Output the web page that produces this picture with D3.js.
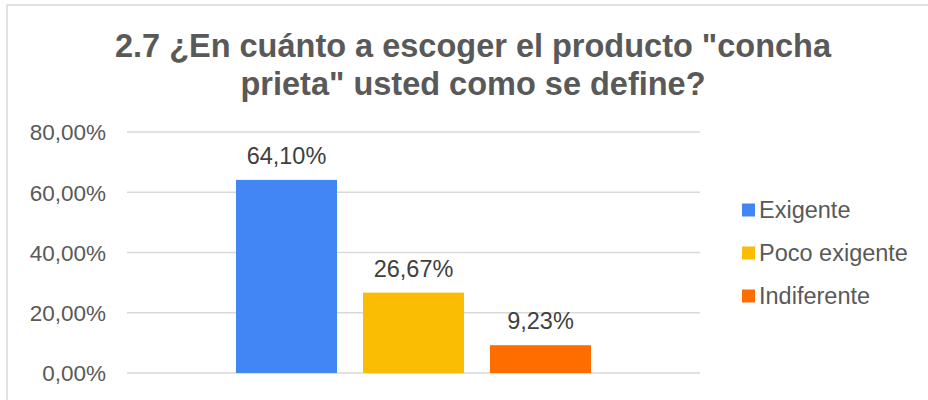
<!DOCTYPE html>
<html>
<head>
<meta charset="utf-8">
<script src="https://cdn.jsdelivr.net/npm/d3@7"></script>
<style>
  html, body { margin: 0; padding: 0; background: #fff; }
  svg { display: block; }
</style>
</head>
<body>
<svg id="chart" width="928" height="400"></svg>
<script>
const titleLines = ["2.7 ¿En cuánto a escoger el producto \"concha", "prieta\" usted como se define?"];
const categories = ["Exigente", "Poco exigente", "Indiferente"];
const values = [0.6410, 0.2667, 0.0923];
const colors = ["#4285F4", "#FBBC04", "#FF6D00"];
const yTicks = [0, 0.2, 0.4, 0.6, 0.8];

const svg = d3.select("#chart");
const font = "'Liberation Sans', Arial, sans-serif";

// Outer border
svg.append("rect")
  .attr("x", 7).attr("y", 5)
  .attr("width", 1000).attr("height", 1000)
  .attr("fill", "none")
  .attr("stroke", "#d9d9d9")
  .attr("stroke-width", 1.5);

// Title
const title = svg.append("text")
  .attr("text-anchor", "middle")
  .attr("font-family", font)
  .attr("font-weight", "bold")
  .attr("font-size", 32.5)
  .attr("fill", "#595959");
titleLines.forEach((t, i) => {
  title.append("tspan").attr("x", 473).attr("y", 57 + i * 38).text(t);
});

const plotLeft = 127, plotRight = 700;
const y = d3.scaleLinear().domain([0, 0.8]).range([373, 132]);
const x = d3.scaleBand().domain(categories).range([plotLeft, plotRight])
  .paddingInner(0.2047).paddingOuter(0.858);

const fmt = v => d3.format(".2f")(v * 100).replace(".", ",") + "%";

// Gridlines
svg.append("g")
  .selectAll("line")
  .data(yTicks)
  .join("line")
  .attr("x1", plotLeft).attr("x2", plotRight)
  .attr("y1", d => y(d)).attr("y2", d => y(d))
  .attr("stroke", "#d9d9d9")
  .attr("stroke-width", 1.5);

// Y axis labels
const yAxis = d3.axisLeft(y).tickValues(yTicks).tickFormat(fmt).tickSize(0).tickPadding(0);
const gy = svg.append("g").attr("transform", "translate(106,0)").call(yAxis);
gy.select(".domain").remove();
gy.selectAll("text")
  .attr("font-family", font)
  .attr("font-size", 22.5)
  .attr("fill", "#595959")
  .attr("dy", "0.35em");

// Bars
svg.append("g")
  .selectAll("rect")
  .data(categories)
  .join("rect")
  .attr("x", d => x(d))
  .attr("width", x.bandwidth())
  .attr("y", (d, i) => y(values[i]))
  .attr("height", (d, i) => y(0) - y(values[i]))
  .attr("fill", (d, i) => colors[i]);

// Data labels
svg.append("g")
  .selectAll("text")
  .data(categories)
  .join("text")
  .attr("x", d => x(d) + x.bandwidth() / 2)
  .attr("y", (d, i) => y(values[i]) - 16)
  .attr("text-anchor", "middle")
  .attr("font-family", font)
  .attr("font-size", 23.5)
  .attr("fill", "#404040")
  .text((d, i) => fmt(values[i]));

// Legend
const legend = svg.append("g")
  .selectAll("g")
  .data(categories)
  .join("g")
  .attr("transform", (d, i) => `translate(742, ${210 + i * 43})`);
legend.append("rect")
  .attr("x", 0).attr("y", -6.5)
  .attr("width", 13).attr("height", 13)
  .attr("fill", (d, i) => colors[i]);
legend.append("text")
  .attr("x", 17).attr("y", 0)
  .attr("dy", "0.35em")
  .attr("font-family", font)
  .attr("font-size", 23.5)
  .attr("fill", "#595959")
  .text(d => d);
</script>
</body>
</html>
